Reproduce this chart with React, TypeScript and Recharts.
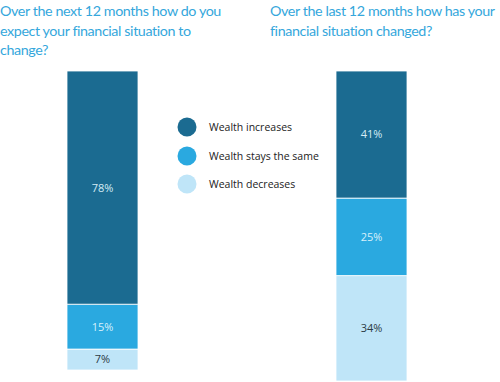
import React from 'react';
import { BarChart, Bar, XAxis, YAxis, LabelList } from 'recharts';

const periods = ['Next 12 months', 'Last 12 months'];
const seriesNames = ['Wealth increases', 'Wealth stays the same', 'Wealth decreases'];
const increases = [78, 41];
const staysSame = [15, 25];
const decreases = [7, 34];
const leftTitle = ['Over the next 12 months how do you', 'expect your financial situation to', 'change?'];
const rightTitle = ['Over the last 12 months how has your', 'financial situation changed?'];

const COLORS = ['#1b6b91', '#2aa9e0', '#bfe5f8'];
const LABEL_COLORS = ['#d5ebf5', '#d8f0fb', '#2b3a44'];
const FONT = '"Open Sans", "Noto Sans", sans-serif';
const TITLE_FONT = 'Lato, "Open Sans", sans-serif';

const pct = (v: number) => `${v}%`;

const StackBar: React.FC<{ idx: number; left: number; top: number; height: number }> = ({ idx, left, top, height }) => {
  const data = [{ period: periods[idx], inc: increases[idx], same: staysSame[idx], dec: decreases[idx] }];
  return (
    <div style={{ position: 'absolute', left, top }}>
      <BarChart width={71} height={height} data={data} margin={{ top: 0, right: 0, bottom: 0, left: 0 }} barCategoryGap={0}>
        <XAxis dataKey="period" hide />
        <YAxis hide domain={[0, 100]} />
        <Bar dataKey="dec" stackId="a" fill={COLORS[2]} stroke="#ffffff" strokeWidth={0.8} isAnimationActive={false}>
          <LabelList dataKey="dec" position="center" formatter={pct} fill={LABEL_COLORS[2]} fontSize={11} fontFamily={FONT} />
        </Bar>
        <Bar dataKey="same" stackId="a" fill={COLORS[1]} stroke="#ffffff" strokeWidth={0.8} isAnimationActive={false}>
          <LabelList dataKey="same" position="center" formatter={pct} fill={LABEL_COLORS[1]} fontSize={11} fontFamily={FONT} />
        </Bar>
        <Bar dataKey="inc" stackId="a" fill={COLORS[0]} stroke="#ffffff" strokeWidth={0.8} isAnimationActive={false}>
          <LabelList dataKey="inc" position="center" formatter={pct} fill={LABEL_COLORS[0]} fontSize={11} fontFamily={FONT} />
        </Bar>
      </BarChart>
    </div>
  );
};

const titleStyle: React.CSSProperties = {
  position: 'absolute',
  top: 1,
  margin: 0,
  fontFamily: TITLE_FONT,
  fontSize: 14.3,
  lineHeight: '19.5px',
  letterSpacing: -0.4,
  whiteSpace: 'nowrap',
  color: '#35a7dc',
  fontWeight: 400,
};

export default function App() {
  return (
    <div style={{ position: 'absolute', left: 0, top: 0, width: 500, height: 382, background: '#fff', overflow: 'hidden' }}>
      <div style={{ ...titleStyle, left: 0 }}>
        {leftTitle.map((l) => <div key={l}>{l}</div>)}
      </div>
      <div style={{ ...titleStyle, left: 270 }}>
        {rightTitle.map((l) => <div key={l}>{l}</div>)}
      </div>

      <StackBar idx={0} left={67} top={71} height={299} />
      <StackBar idx={1} left={336} top={71} height={310} />

      <div style={{ position: 'absolute', left: 177, top: 117 }}>
        {seriesNames.map((name, i) => (
          <div key={name} style={{ display: 'flex', alignItems: 'center', height: 20, marginBottom: i < 2 ? 8.5 : 0 }}>
            <svg width={20} height={20} style={{ marginRight: 12 }}>
              <circle cx={10} cy={10} r={9.5} fill={COLORS[i]} />
            </svg>
            <span style={{ fontFamily: FONT, fontSize: 10.5, color: '#222' }}>{name}</span>
          </div>
        ))}
      </div>
    </div>
  );
}
